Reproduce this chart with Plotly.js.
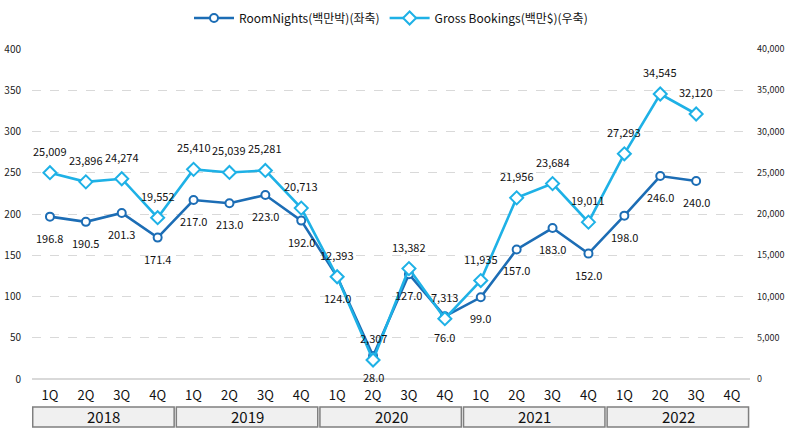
<!DOCTYPE html>
<html>
<head>
<meta charset="utf-8">
<script src="https://cdn.plot.ly/plotly-3.0.1.min.js"></script>
<style>html,body{margin:0;padding:0;background:#fff;}#chart{width:788px;height:440px;}</style>
</head>
<body>
<div id="chart"></div>
<script>
const quarters = ["1Q","2Q","3Q","4Q","1Q","2Q","3Q","4Q","1Q","2Q","3Q","4Q","1Q","2Q","3Q","4Q","1Q","2Q","3Q","4Q"];
const years = ["2018","2019","2020","2021","2022"];
const roomNights = [196.8,190.5,201.3,171.4,217.0,213.0,223.0,192.0,124.0,28.0,127.0,76.0,99.0,157.0,183.0,152.0,198.0,246.0,240.0,null];
const grossBookings = [25009,23896,24274,19552,25410,25039,25281,20713,12393,2307,13382,7313,11935,21956,23684,19011,27293,34545,32120,null];
const seriesNames = ["RoomNights(백만박)(좌축)", "Gross Bookings(백만$)(우축)"];

const FONT = "'Noto Sans CJK KR', 'Noto Sans', sans-serif";
const idx = quarters.map((q,i)=>i);

const traces = [
  {
    x: idx, y: roomNights, name: seriesNames[0], type: "scatter", mode: "lines+markers",
    line: {color: "#1c6db5", width: 2.6},
    marker: {symbol: "circle", size: 8, color: "#ffffff", line: {color: "#1c6db5", width: 2}},
    cliponaxis: false, yaxis: "y"
  },
  {
    x: idx, y: grossBookings, name: seriesNames[1], type: "scatter", mode: "lines+markers",
    line: {color: "#1eb1e6", width: 2.6},
    marker: {symbol: "diamond", size: 10, color: "#ffffff", line: {color: "#1eb1e6", width: 2}},
    cliponaxis: false, yaxis: "y2"
  }
];

const shapes = [];
const annotations = [];
years.forEach((yr, k) => {
  shapes.push({
    type: "rect", xref: "x", yref: "paper",
    x0: 4*k - 0.5 + 0.02, x1: 4*k + 3.5 - 0.04,
    y0: -0.1455, y1: -0.0848,
    fillcolor: "#f0f0f0", line: {color: "#7f7f7f", width: 1.5}, layer: "above"
  });
  annotations.push({
    xref: "x", yref: "paper", x: 4*k + 1.5, y: -0.115,
    text: yr, showarrow: false, xanchor: "center", yanchor: "middle",
    font: {family: FONT, size: 15, color: "#111"}
  });
});
roomNights.forEach((v, i) => {
  if (v == null) return;
  annotations.push({
    xref: "x", yref: "y", x: i, y: v, text: v.toFixed(1), showarrow: false,
    xanchor: "center", yanchor: "middle", yshift: -21,
    font: {family: FONT, size: 11, color: "#111"}
  });
});
grossBookings.forEach((v, i) => {
  if (v == null) return;
  annotations.push({
    xref: "x", yref: "y2", x: i, y: v, text: v.toLocaleString("en-US"), showarrow: false,
    xanchor: "center", yanchor: "middle", yshift: 22,
    font: {family: FONT, size: 11, color: "#111"}
  });
});

const layout = {
  width: 788, height: 440,
  margin: {l: 32, r: 38, t: 49, b: 61, autoexpand: false},
  paper_bgcolor: "#fff", plot_bgcolor: "#fff",
  showlegend: true,
  legend: {orientation: "h", x: 0.5, xanchor: "center", y: 1.094, yanchor: "middle",
           font: {family: FONT, size: 12, color: "#111"}, itemwidth: 40, tracegroupgap: 0},
  xaxis: {
    range: [-0.5, 19.5], tickvals: idx, ticktext: quarters,
    showgrid: false, zeroline: false, showline: false, ticks: "",
    tickfont: {family: FONT, size: 13, color: "#111"}, ticklabelstandoff: 7, fixedrange: true
  },
  yaxis: {
    range: [0, 400], dtick: 50, tick0: 0,
    showgrid: true, gridcolor: "#d9d9d9", griddash: "dash", gridwidth: 1,
    zeroline: true, zerolinecolor: "#d9d9d9", zerolinewidth: 1.5,
    showline: false, ticks: "",
    tickfont: {family: FONT, size: 10, color: "#222"}, ticklabelstandoff: 10
  },
  yaxis2: {
    range: [0, 40000], dtick: 5000, tick0: 0, overlaying: "y", side: "right",
    showgrid: false, zeroline: false, showline: false, ticks: "",
    tickformat: ",d",
    tickfont: {family: FONT, size: 9, color: "#222"}, ticklabelstandoff: 6
  },
  shapes: shapes,
  annotations: annotations
};

Plotly.newPlot("chart", traces, layout, {displayModeBar: false, staticPlot: true});
</script>
</body>
</html>
